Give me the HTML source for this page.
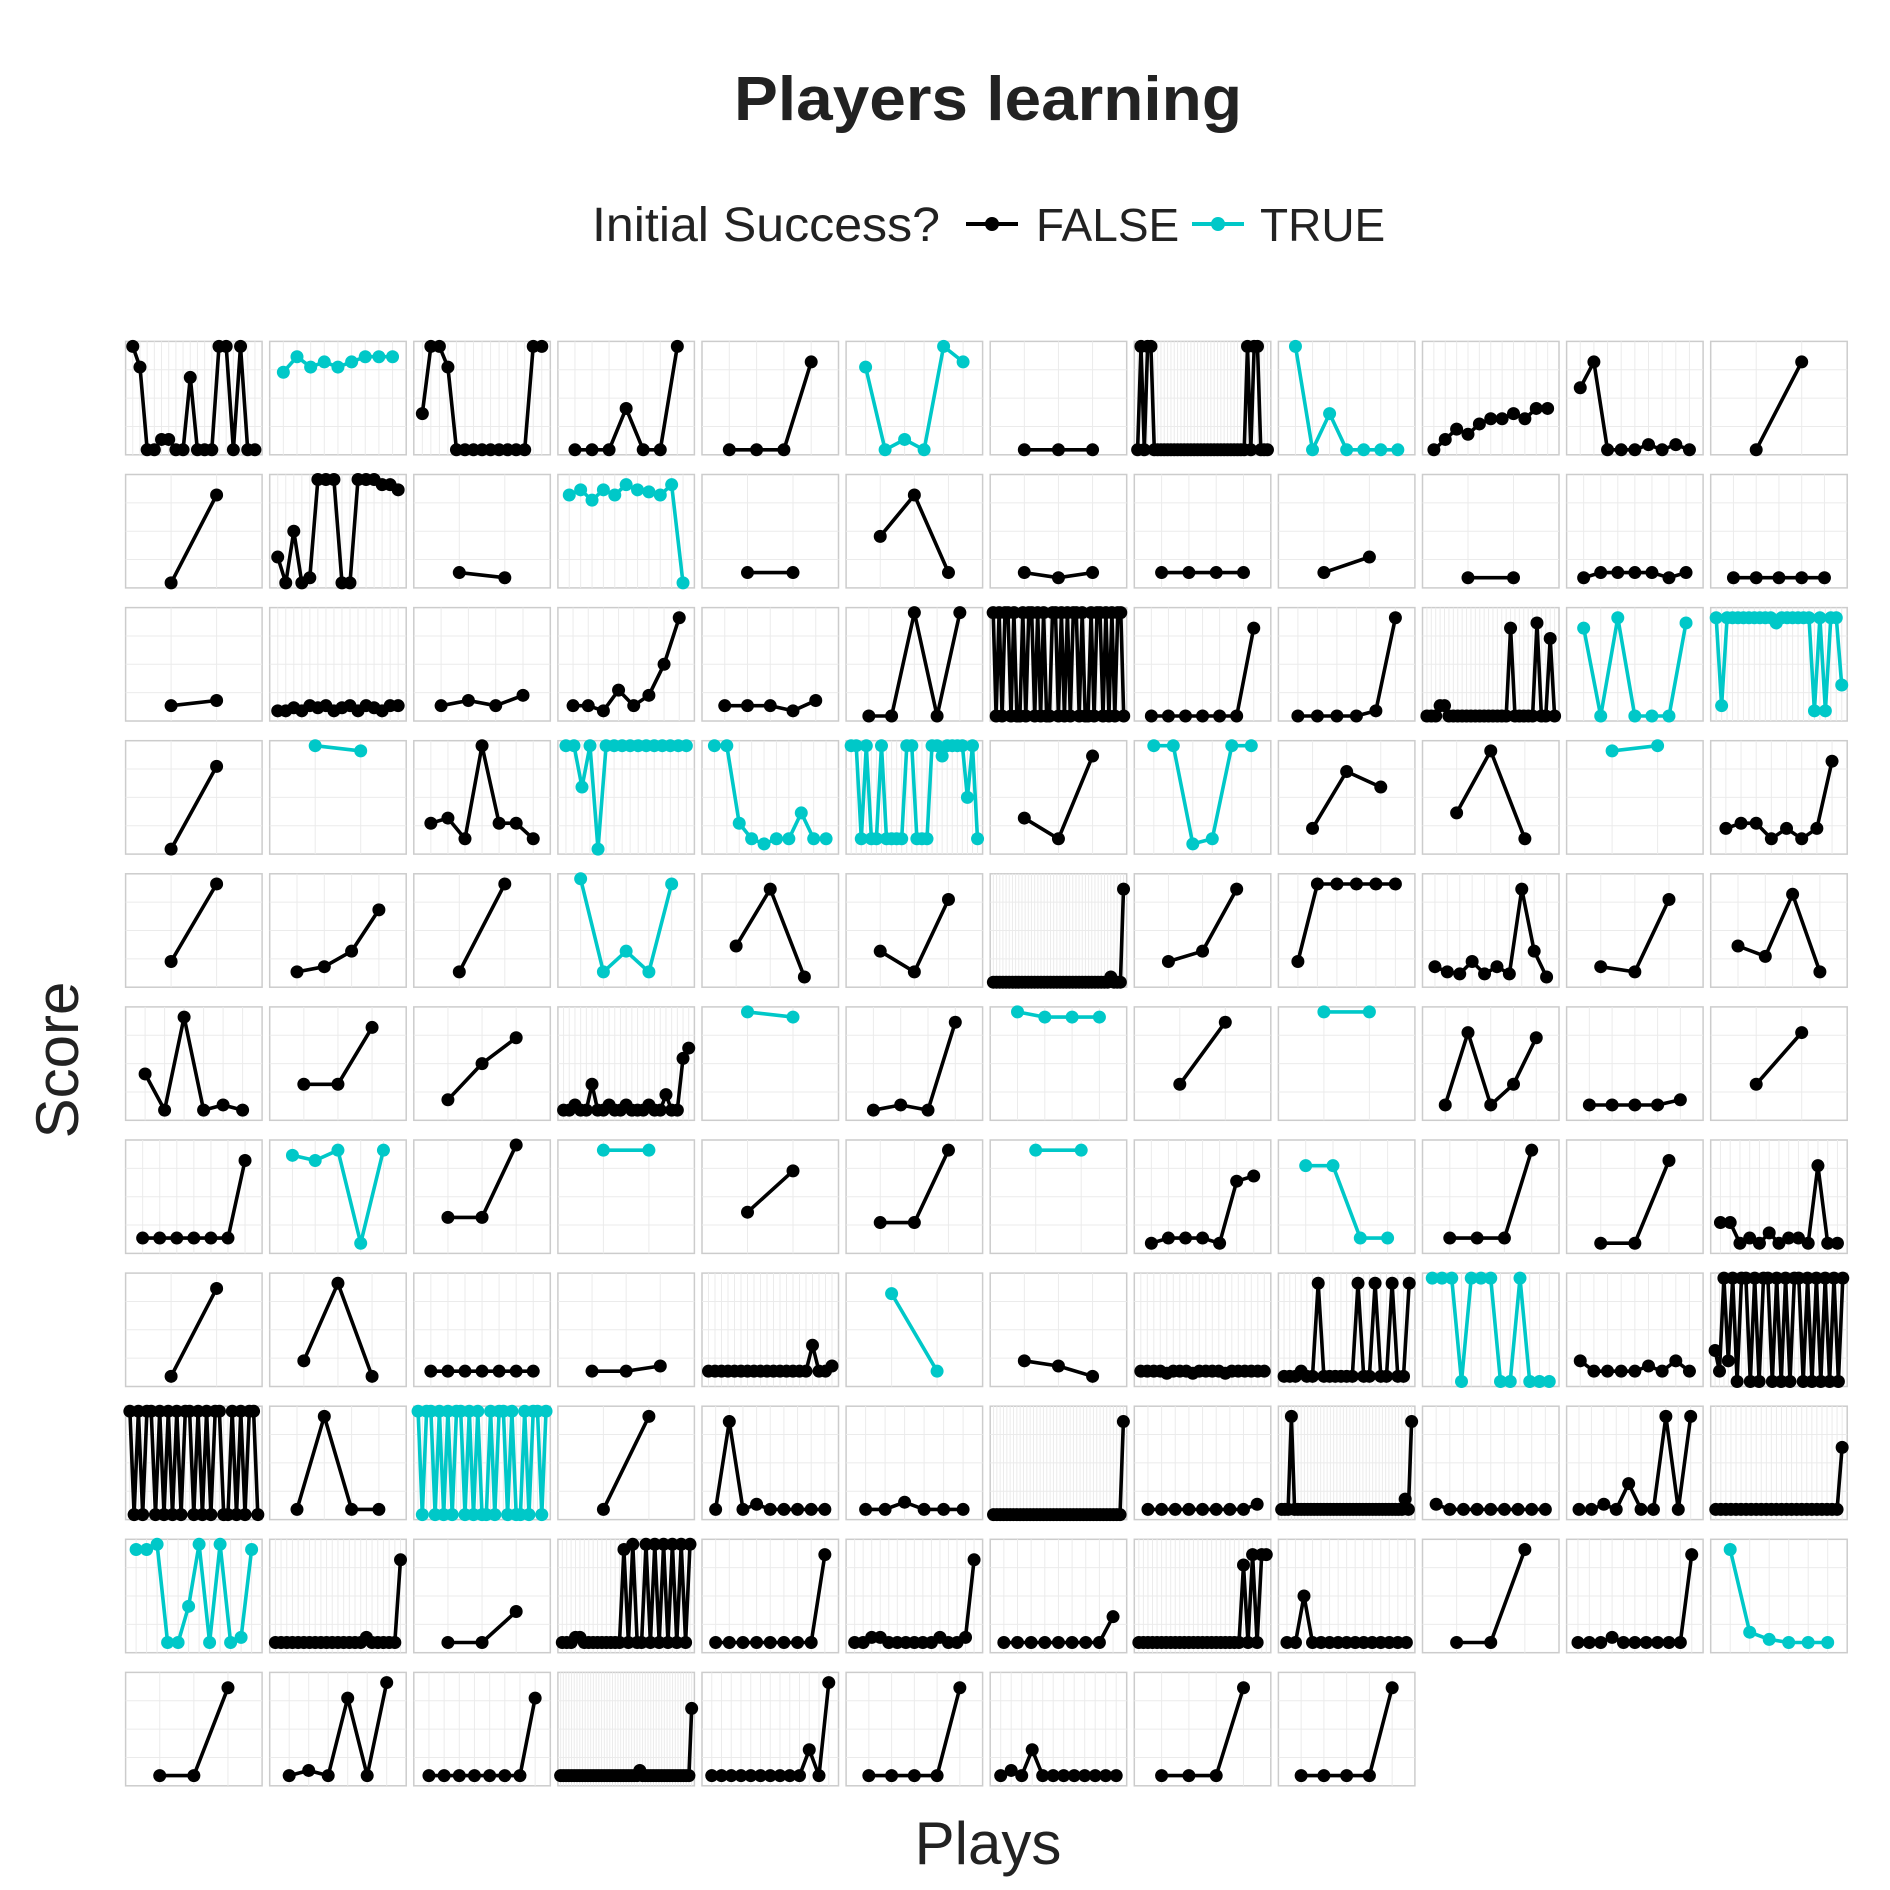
<!DOCTYPE html>
<html><head><meta charset="utf-8"><style>
html,body{margin:0;padding:0;background:#fff;}
svg{display:block;font-family:"Liberation Sans","DejaVu Sans",sans-serif;}
</style></head><body>
<svg id="chart" width="1890" height="1890" viewBox="0 0 1890 1890" xmlns="http://www.w3.org/2000/svg">
<text x="988" y="120" text-anchor="middle" font-size="62" font-weight="bold" fill="#222" textLength="508" lengthAdjust="spacingAndGlyphs">Players learning</text>
<g>
<text x="592" y="241" font-size="48" fill="#222" textLength="348" lengthAdjust="spacingAndGlyphs">Initial Success?</text>
<g>
<line x1="966" y1="224" x2="1018" y2="224" stroke="#000" stroke-width="4"/>
<circle cx="992" cy="224" r="7" fill="#000"/>
<text x="1036" y="241" font-size="46" fill="#222">FALSE</text></g>
<g>
<line x1="1192" y1="224" x2="1244" y2="224" stroke="#00C8C8" stroke-width="4"/>
<circle cx="1218" cy="224" r="7" fill="#00C8C8"/>
<text x="1260" y="241" font-size="46" fill="#222">TRUE</text></g>
</g>
<text x="988" y="1864" text-anchor="middle" font-size="60" fill="#222">Plays</text>
<text transform="translate(78,1060) rotate(-90)" text-anchor="middle" font-size="60" fill="#222">Score</text>
<g id="panels"></g>
</svg>
<script>
const isTrue = [0,1,0,0,0,1,0,0,1,0,0,0, 0,0,0,1,0,0,0,0,0,0,0,0, 0,0,0,0,0,0,0,0,0,0,1,1, 0,1,0,1,1,1,0,1,0,0,1,0,
0,0,0,1,0,0,0,0,0,0,0,0, 0,0,0,0,1,0,1,0,1,0,0,0, 0,1,0,1,0,0,1,0,1,0,0,0, 0,0,0,0,0,1,0,0,0,1,0,0,
0,0,1,0,0,0,0,0,0,0,0,0, 1,0,0,0,0,0,0,0,0,0,0,1, 0,0,0,0,0,0,0,0,0];
const series = [
[1,0.8,0,0,0.1,0.1,0,0,0.7,0,0,0,1,1,0,1,0,0],
[0.75,0.9,0.8,0.85,0.8,0.85,0.9,0.9,0.9],
[0.35,1,1,0.8,0,0,0,0,0,0,0,0,0,1,1],
[0,0,0,0.4,0,0,1],
[0,0,0,0.85],
[0.8,0,0.1,0,1,0.85],
[0,0,0],
[0,1,0,1,1,0,0,0,0,0,0,0,0,0,0,0,0,0,0,0,0,0,0,0,0,0,0,0,0,0,0,0,0,1,0,1,1,0,0,0],
[1,0,0.35,0,0,0,0],
[0,0.1,0.2,0.15,0.25,0.3,0.3,0.35,0.3,0.4,0.4],
[0.6,0.85,0,0,0,0.05,0,0.05,0],
[0,0.85],

[0,0.85],
[0.25,0,0.5,0,0.05,1,1,1,0,0,1,1,1,0.95,0.95,0.9],
[0.1,0.05],
[0.85,0.9,0.8,0.9,0.85,0.95,0.9,0.88,0.85,0.95,0],
[0.1,0.1],
[0.45,0.85,0.1],
[0.1,0.05,0.1],
[0.1,0.1,0.1,0.1],
[0.1,0.25],
[0.05,0.05],
[0.05,0.1,0.1,0.1,0.1,0.05,0.1],
[0.05,0.05,0.05,0.05,0.05],

[0.1,0.15],
[0.05,0.05,0.08,0.05,0.1,0.08,0.1,0.05,0.08,0.1,0.05,0.1,0.08,0.05,0.1,0.1],
[0.1,0.15,0.1,0.2],
[0.1,0.1,0.05,0.25,0.1,0.2,0.5,0.95],
[0.1,0.1,0.1,0.05,0.15],
[0,0,1,0,1],
[1,0,1,0,1,1,0,1,0,0,1,0,1,1,0,1,0,1,0,0,1,1,0,1,0,1,0,1,1,0,1,0,0,1,0,1,1,0,1,0,1,0,1,1,0],
[0,0,0,0,0,0,0.85],
[0,0,0,0,0.05,0.95],
[0,0,0,0.1,0.1,0,0,0,0,0,0,0,0,0,0,0,0,0,0,0.85,0,0,0,0,0,0.9,0,0,0.75,0],
[0.85,0,0.95,0,0,0,0.9],
[0.95,0.1,0.95,0.95,0.95,0.95,0.95,0.95,0.95,0.95,0.95,0.9,0.95,0.95,0.95,0.95,0.95,0.95,0.05,0.95,0.05,0.95,0.95,0.3],

[0,0.8],
[1,0.95],
[0.25,0.3,0.1,1,0.25,0.25,0.1],
[1,1,0.6,1,0,1,1,1,1,1,1,1,1,1,1,1],
[1,1,0.25,0.1,0.05,0.1,0.1,0.35,0.1,0.1],
[1,1,0.1,1,0.1,0.1,1,0.1,0.1,0.1,0.1,1,1,0.1,0.1,0.1,1,1,0.9,1,1,1,1,0.5,1,0.1],
[0.3,0.1,0.9],
[1,1,0.05,0.1,1,1],
[0.2,0.75,0.6],
[0.35,0.95,0.1],
[0.95,1],
[0.2,0.25,0.25,0.1,0.2,0.1,0.2,0.85],

[0.2,0.95],
[0.1,0.15,0.3,0.7],
[0.1,0.95],
[1,0.1,0.3,0.1,0.95],
[0.35,0.9,0.05],
[0.3,0.1,0.8],
[0,0,0,0,0,0,0,0,0,0,0,0,0,0,0,0,0,0,0,0,0,0,0,0,0,0,0,0,0,0,0,0,0,0,0,0,0,0.05,0,0,0,0.9],
[0.2,0.3,0.9],
[0.2,0.95,0.95,0.95,0.95,0.95],
[0.15,0.1,0.08,0.2,0.08,0.15,0.08,0.9,0.3,0.05],
[0.15,0.1,0.8],
[0.35,0.25,0.85,0.1],

[0.4,0.05,0.95,0.05,0.1,0.05],
[0.3,0.3,0.85],
[0.15,0.5,0.75],
[0.05,0.05,0.1,0.05,0.05,0.3,0.05,0.05,0.1,0.05,0.05,0.1,0.05,0.05,0.05,0.1,0.05,0.05,0.2,0.05,0.05,0.55,0.65],
[1,0.95],
[0.05,0.1,0.05,0.9],
[1,0.95,0.95,0.95],
[0.3,0.9],
[1,1],
[0.1,0.8,0.1,0.3,0.75],
[0.1,0.1,0.1,0.1,0.15],
[0.3,0.8],

[0.1,0.1,0.1,0.1,0.1,0.1,0.85],
[0.9,0.85,0.95,0.05,0.95],
[0.3,0.3,1],
[0.95,0.95],
[0.35,0.75],
[0.25,0.25,0.95],
[0.95,0.95],
[0.05,0.1,0.1,0.1,0.05,0.65,0.7],
[0.8,0.8,0.1,0.1],
[0.1,0.1,0.1,0.95],
[0.05,0.05,0.85],
[0.25,0.25,0.05,0.1,0.05,0.15,0.05,0.1,0.1,0.05,0.8,0.05,0.05],

[0.05,0.9],
[0.2,0.95,0.05],
[0.1,0.1,0.1,0.1,0.1,0.1,0.1],
[0.1,0.1,0.15],
[0.1,0.1,0.1,0.1,0.1,0.1,0.1,0.1,0.1,0.1,0.1,0.1,0.1,0.1,0.1,0.1,0.35,0.1,0.1,0.15],
[0.85,0.1],
[0.2,0.15,0.05],
[0.1,0.1,0.1,0.1,0.08,0.1,0.1,0.1,0.08,0.1,0.1,0.1,0.1,0.08,0.1,0.1,0.1,0.1,0.1,0.1],
[0.05,0.05,0.05,0.1,0.05,0.05,0.95,0.05,0.05,0.05,0.05,0.05,0.05,0.95,0.05,0.05,0.95,0.05,0.05,0.95,0.05,0.05,0.95],
[1,1,1,0,1,1,1,0,0,1,0,0,0],
[0.2,0.1,0.1,0.1,0.1,0.15,0.1,0.2,0.1],
[0.3,0.1,1,0.2,1,0,1,1,0,1,0,1,1,0,1,0,1,0,1,1,0,1,0,1,0,1,0,1,0,1],

[1,0,1,0,1,1,0,1,0,1,0,1,0,1,1,0,1,0,1,0,1,1,0,0,1,0,1,0,1,1,0],
[0.05,0.95,0.05,0.05],
[1,0,1,1,0,1,0,1,0,1,1,0,1,0,1,0,0,1,0,1,1,0,1,0,0,1,0,1,1,0,1],
[0.05,0.95],
[0.05,0.9,0.05,0.1,0.05,0.05,0.05,0.05,0.05],
[0.05,0.05,0.12,0.05,0.05,0.05],
[0,0,0,0,0,0,0,0,0,0,0,0,0,0,0,0,0,0,0,0,0,0,0,0,0,0,0,0,0,0,0,0,0,0,0,0,0,0,0,0.9],
[0.05,0.05,0.05,0.05,0.05,0.05,0.05,0.05,0.1],
[0.05,0.05,0.05,0.95,0.05,0.05,0.05,0.05,0.05,0.05,0.05,0.05,0.05,0.05,0.05,0.05,0.05,0.05,0.05,0.05,0.05,0.05,0.05,0.05,0.05,0.05,0.05,0.05,0.05,0.05,0.05,0.05,0.05,0.05,0.05,0.05,0.05,0.05,0.15,0.05,0.9],
[0.1,0.05,0.05,0.05,0.05,0.05,0.05,0.05,0.05],
[0.05,0.05,0.1,0.05,0.3,0.05,0.05,0.95,0.05,0.95],
[0.05,0.05,0.05,0.05,0.05,0.05,0.05,0.05,0.05,0.05,0.05,0.05,0.05,0.05,0.05,0.05,0.05,0.05,0.05,0.05,0.05,0.05,0.05,0.05,0.05,0.65],

[0.95,0.95,1,0.05,0.05,0.4,1,0.05,1,0.05,0.1,0.95],
[0.05,0.05,0.05,0.05,0.05,0.05,0.05,0.05,0.05,0.05,0.05,0.05,0.05,0.05,0.05,0.05,0.1,0.05,0.05,0.05,0.05,0.05,0.85],
[0.05,0.05,0.35],
[0.05,0.05,0.05,0.1,0.1,0.05,0.05,0.05,0.05,0.05,0.05,0.05,0.05,0.05,0.95,0.05,1,0.05,0.05,1,0.05,1,0.05,1,0.05,1,0.05,1,0.05,1],
[0.05,0.05,0.05,0.05,0.05,0.05,0.05,0.05,0.9],
[0.05,0.05,0.1,0.1,0.05,0.05,0.05,0.05,0.05,0.05,0.1,0.05,0.05,0.1,0.85],
[0.05,0.05,0.05,0.05,0.05,0.05,0.05,0.05,0.3],
[0.05,0.05,0.05,0.05,0.05,0.05,0.05,0.05,0.05,0.05,0.05,0.05,0.05,0.05,0.05,0.05,0.05,0.05,0.05,0.05,0.05,0.05,0.05,0.8,0.05,0.9,0.05,0.9,0.9],
[0.05,0.05,0.5,0.05,0.05,0.05,0.05,0.05,0.05,0.05,0.05,0.05,0.05,0.05,0.05],
[0.05,0.05,0.95],
[0.05,0.05,0.05,0.1,0.05,0.05,0.05,0.05,0.05,0.05,0.9],
[0.95,0.15,0.08,0.05,0.05,0.05],

[0.05,0.05,0.9],
[0.05,0.1,0.05,0.8,0.05,0.95],
[0.05,0.05,0.05,0.05,0.05,0.05,0.05,0.8],
[0.05,0.05,0.05,0.05,0.05,0.05,0.05,0.05,0.05,0.05,0.05,0.05,0.05,0.05,0.05,0.05,0.05,0.05,0.05,0.05,0.05,0.05,0.05,0.05,0.05,0.05,0.05,0.05,0.05,0.1,0.05,0.05,0.05,0.05,0.05,0.05,0.05,0.05,0.05,0.05,0.05,0.05,0.05,0.05,0.05,0.05,0.05,0.05,0.7],
[0.05,0.05,0.05,0.05,0.05,0.05,0.05,0.05,0.05,0.05,0.3,0.05,0.95],
[0.05,0.05,0.05,0.05,0.9],
[0.05,0.1,0.05,0.3,0.05,0.05,0.05,0.05,0.05,0.05,0.05,0.05],
[0.05,0.05,0.05,0.9],
[0.05,0.05,0.05,0.05,0.9]
];
const NS = "http://www.w3.org/2000/svg";
const g = document.getElementById('panels');
const X0 = 125.6, PX = 144.1, PW = 136.5, Y0 = 341.4, PY = 133.1, PH = 113.4;
function mk(tag, attrs){ const e = document.createElementNS(NS, tag); for (const k in attrs) e.setAttribute(k, attrs[k]); return e; }
function xScale(i, n, left){ return left + PW * (i + 1) / (n + 1); }
function yScale(v, top){ return top + PH - 5 - v * (PH - 10); }
series.forEach((vals, p) => {
  const col = p % 12, row = Math.floor(p / 12);
  const left = X0 + col * PX, top = Y0 + row * PY;
  const pg = mk('g', {});
  
  
  pg.appendChild(mk('rect', {x:left, y:top, width:PW, height:PH, fill:'#fff', stroke:'#cccccc', 'stroke-width':1.5}));
  const n = vals.length;
  for (let k = 1; k < 4; k++) {
    const yy = top + PH * k / 4;
    pg.appendChild(mk('line', {x1:left, x2:left+PW, y1:yy, y2:yy, stroke:'#ebebeb', 'stroke-width':1}));
  }
  for (let i = 0; i < n; i++) {
    const xx = xScale(i, n, left);
    pg.appendChild(mk('line', {x1:xx, x2:xx, y1:top, y2:top+PH, stroke:'#ebebeb', 'stroke-width':1}));
  }
  const color = isTrue[p] ? '#00C8C8' : '#000000';
  const pts = vals.map((v, i) => xScale(i, n, left).toFixed(1) + ',' + yScale(v, top).toFixed(1)).join(' ');
  const line = mk('polyline', {points:pts, fill:'none', stroke:color, 'stroke-width':3.6, 'stroke-linejoin':'round'});
  
  
  pg.appendChild(line);
  vals.forEach((v, i) => {
    const c = mk('circle', {cx:xScale(i, n, left), cy:yScale(v, top), r:6.5, fill:color});
    
    
    pg.appendChild(c);
  });
  g.appendChild(pg);
});
</script>
</body></html>
